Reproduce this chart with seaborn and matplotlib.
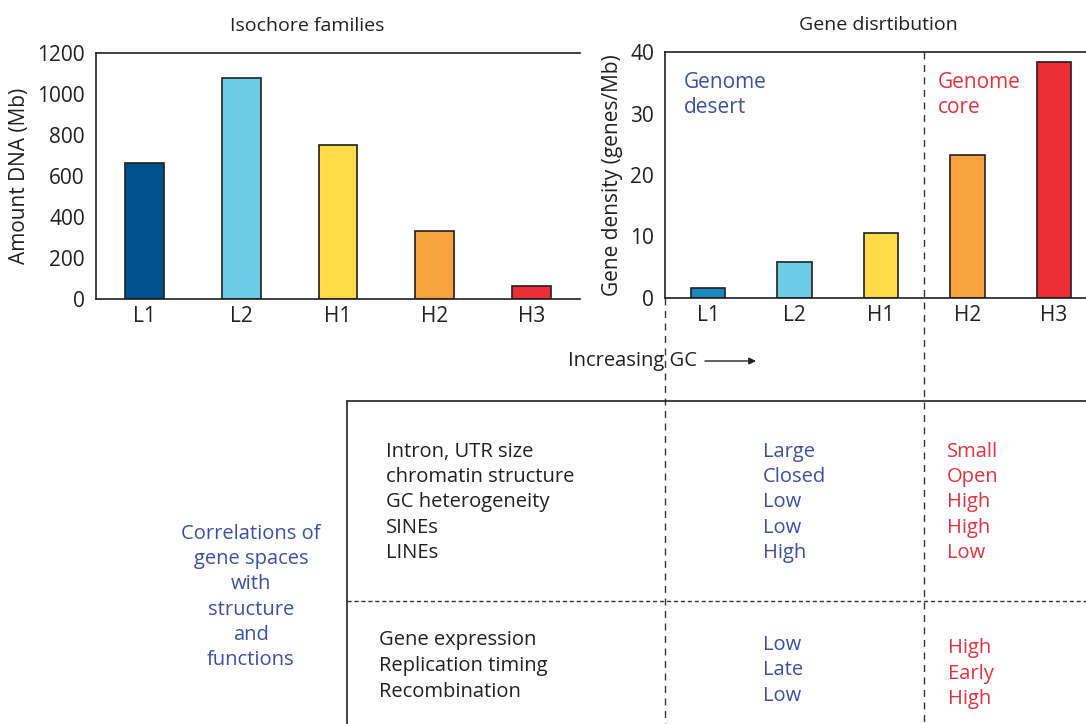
import matplotlib
matplotlib.use("Agg")
import matplotlib.pyplot as plt
import seaborn as sns
from matplotlib.lines import Line2D
from matplotlib.patches import FancyArrowPatch

# data
families = ["L1", "L2", "H1", "H2", "H3"]
amount_dna = [665, 1080, 752, 330, 65]
gene_density = [1.7, 5.8, 10.6, 23.2, 38.3]

left_colors = ["#00518c", "#6bcde6", "#ffdb48", "#f7a13f", "#ec2f37"]
right_colors = ["#1a89c2", "#6bcde6", "#ffdb48", "#f7a13f", "#ec2f37"]

top_rows = ["Intron, UTR size", "chromatin structure", "GC heterogeneity", "SINEs", "LINEs"]
top_desert = ["Large", "Closed", "Low", "Low", "High"]
top_core = ["Small", "Open", "High", "High", "Low"]
bottom_rows = ["Gene expression", "Replication timing", "Recombination"]
bottom_desert = ["Low", "Late", "Low"]
bottom_core = ["High", "Early", "High"]
side_label = ["Correlations of", "gene spaces", "with", "structure", "and", "functions"]

W, H = 1086, 724
BLUE = "#3e4ea5"
RED = "#e9303f"
INK = "#231f20"
FS = 14.5

sns.set_style("white")
plt.rcParams["font.family"] = ["Open Sans", "DejaVu Sans"]
plt.rcParams["text.color"] = INK
plt.rcParams["axes.labelcolor"] = INK
plt.rcParams["xtick.color"] = INK
plt.rcParams["ytick.color"] = INK


def fx(x):
    return x / W


def fy(y):
    return 1 - y / H


def box(x0, y0, x1, y1):
    return [fx(x0), fy(y1), fx(x1) - fx(x0), fy(y0) - fy(y1)]


fig = plt.figure(figsize=(W / 100, H / 100), dpi=100)


def style_axes(ax):
    for s in ["top", "left", "bottom"]:
        ax.spines[s].set_visible(True)
        ax.spines[s].set_color(INK)
        ax.spines[s].set_linewidth(1.2)
    ax.spines["right"].set_visible(False)
    ax.set_xlim(-0.5, 4.5)
    ax.set_xticks(range(5), families)
    ax.set_xticks([-0.5, 0.5, 1.5, 2.5, 3.5, 4.5], minor=True)
    ax.tick_params(axis="x", which="major", length=0, labelsize=15, pad=5)
    ax.tick_params(axis="x", which="minor", length=6, width=1.2, direction="out")
    ax.tick_params(axis="y", which="major", length=5, width=1.2, direction="out", labelsize=15, pad=3)
    ax.set_xlabel("")


# left chart
ax1 = fig.add_axes(box(96, 53, 580, 299))
sns.barplot(x=families, y=amount_dna, hue=families, palette=left_colors, width=0.4,
            saturation=1, edgecolor=INK, linewidth=1.2, legend=False, ax=ax1)
style_axes(ax1)
ax1.set_ylim(0, 1200)
ax1.set_yticks(range(0, 1201, 200))
ax1.set_ylabel("Amount DNA (Mb)", fontsize=15, labelpad=5)
ax1.set_title("Isochore families", fontsize=14, pad=16, x=0.437)

# right chart
ax2 = fig.add_axes(box(665, 52, 1097, 298))
sns.barplot(x=families, y=gene_density, hue=families, palette=right_colors, width=0.4,
            saturation=1, edgecolor=INK, linewidth=1.2, legend=False, ax=ax2)
style_axes(ax2)
ax2.set_ylim(0, 40)
ax2.set_yticks(range(0, 41, 10))
ax2.set_yticks(range(5, 40, 10), minor=True)
ax2.tick_params(axis="y", which="minor", length=5, width=1.2, direction="out")
ax2.set_ylabel("Gene density (genes/Mb)", fontsize=15, labelpad=5)
ax2.set_title("Gene disrtibution", fontsize=14, pad=16, x=(878 - 665) / (1097 - 665))
ax2.text(-0.28, 36.8, "Genome\ndesert", color=BLUE, fontsize=15, va="top", linespacing=1.25)
ax2.text(2.66, 36.8, "Genome\ncore", color=RED, fontsize=15, va="top", linespacing=1.25)

# guide lines across the figure
dash = dict(color="#333333", linewidth=1.0, linestyle=(0, (5, 4)), transform=fig.transFigure)
fig.add_artist(Line2D([fx(665), fx(665)], [fy(298), fy(724)], **dash))
fig.add_artist(Line2D([fx(924), fx(924)], [fy(52), fy(724)], **dash))
fig.add_artist(Line2D([fx(347), fx(1086)], [fy(401), fy(401)], color=INK, linewidth=1.2,
                      transform=fig.transFigure))
fig.add_artist(Line2D([fx(347), fx(347)], [fy(401), fy(724)], color=INK, linewidth=1.2,
                      transform=fig.transFigure))
fig.add_artist(Line2D([fx(347), fx(1086)], [fy(601), fy(601)], color="#333333", linewidth=1.0,
                      linestyle=(0, (3, 2)), transform=fig.transFigure))

# increasing GC arrow
fig.text(fx(568), fy(361), "Increasing GC", fontsize=FS, va="center", ha="left")
fig.add_artist(FancyArrowPatch(
    (fx(705), fy(361)), (fx(756), fy(361)), transform=fig.transFigure,
    arrowstyle="-|>", mutation_scale=10, color=INK, linewidth=1.0,
    shrinkA=0, shrinkB=0))

# table text
for i, (r, d, c) in enumerate(zip(top_rows, top_desert, top_core)):
    y = fy(452 + i * 25.2)
    fig.text(fx(386), y, r, fontsize=FS, va="center", ha="left")
    fig.text(fx(763), y, d, fontsize=FS, va="center", ha="left", color=BLUE)
    fig.text(fx(947), y, c, fontsize=FS, va="center", ha="left", color=RED)

for i, (r, d, c) in enumerate(zip(bottom_rows, bottom_desert, bottom_core)):
    fig.text(fx(379), fy(640 + i * 25.8), r, fontsize=FS, va="center", ha="left")
    fig.text(fx(763), fy(645 + i * 25.4), d, fontsize=FS, va="center", ha="left", color=BLUE)
    fig.text(fx(948), fy(648 + i * 25.6), c, fontsize=FS, va="center", ha="left", color=RED)

for i, s in enumerate(side_label):
    fig.text(fx(251), fy(534 + i * 25.2), s, fontsize=FS, va="center", ha="center", color=BLUE)

fig.savefig("out.png", dpi=100)
